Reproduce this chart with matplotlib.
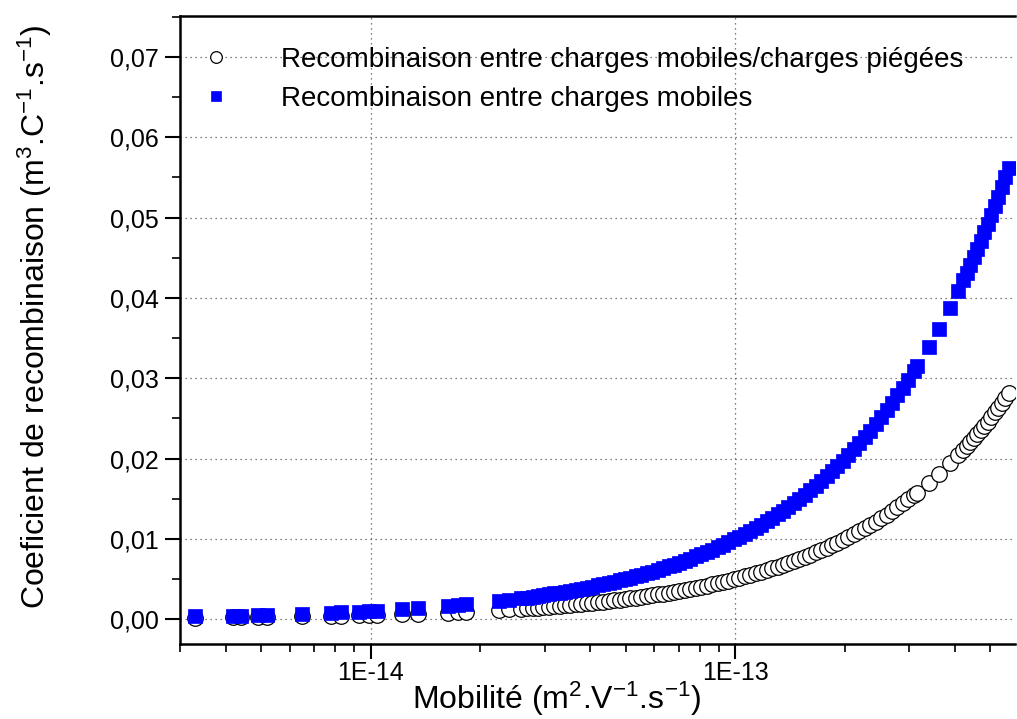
import matplotlib
matplotlib.use("Agg")
import matplotlib.pyplot as plt
from matplotlib.ticker import FuncFormatter, LogLocator, MultipleLocator, NullFormatter

plt.rcParams['font.family'] = ['Liberation Sans', 'DejaVu Sans']
plt.rcParams['mathtext.default'] = 'regular'

# mobilité (x 1e-15 m2/V/s)
mobilite = [3.3, 4.2, 4.4, 4.9, 5.2, 6.5, 7.8, 8.3, 9.3, 9.9, 10.4, 12.2, 13.5, 16.3, 17.4, 18.3, 22.5, 24.0,
            25.9, 26.8, 27.8, 28.7, 29.7, 30.8, 31.9, 33.0, 34.1, 35.3, 36.6, 37.8, 39.2, 40.5, 42.0, 43.4,
            45.0, 46.5, 48.2, 49.9, 51.6, 53.4, 55.3, 57.2, 59.2, 61.3, 63.4, 65.7, 68.0, 70.3, 72.8, 75.3,
            78.0, 80.7, 83.5, 86.5, 89.5, 92.6, 95.8, 99.2, 102.7, 106.3, 110.0, 113.8, 117.8, 121.9, 126.2,
            130.6, 135.2, 139.9, 144.8, 149.9, 155.1, 160.6, 166.2, 172.0, 178.0, 184.3, 190.7, 197.4, 204.3,
            211.5, 218.9, 226.5, 234.5, 242.7, 251.2, 260.0, 269.1, 278.5, 288.2, 298.3, 308.8, 315.0,
            339, 361, 388, 409,
            422, 431, 441, 451, 461, 471, 482, 492, 503, 515, 526, 538, 550, 562]

# recombinaison entre charges mobiles/charges piégées
coef_pieges = [0.00017, 0.00021, 0.00022, 0.00025, 0.00026, 0.00033, 0.00039, 0.00042, 0.00047, 0.0005,
               0.00052, 0.00061, 0.00068, 0.00082, 0.00087, 0.00092, 0.00113, 0.0012,
               0.0013, 0.00134, 0.00139, 0.00144, 0.00149, 0.00154, 0.0016, 0.00165, 0.00171, 0.00177,
               0.00183, 0.00189, 0.00196, 0.00203, 0.0021, 0.00217, 0.00225, 0.00233, 0.00241, 0.0025,
               0.00258, 0.00267, 0.00277, 0.00286, 0.00296, 0.00307, 0.00317, 0.00329, 0.0034, 0.00352,
               0.00364, 0.00377, 0.0039, 0.00404, 0.00418, 0.00433, 0.00448, 0.00463, 0.00479, 0.00496,
               0.00514, 0.00532, 0.0055, 0.00569, 0.00589, 0.0061, 0.00631, 0.00653, 0.00676, 0.007,
               0.00724, 0.0075, 0.00776, 0.00803, 0.00831, 0.0086, 0.0089, 0.00922, 0.00954, 0.00987,
               0.01022, 0.01058, 0.01095, 0.01133, 0.01173, 0.01214, 0.01256, 0.013, 0.01346, 0.01393,
               0.01441, 0.01492, 0.01544, 0.01575,
               0.01695, 0.01805, 0.0194, 0.02045,
               0.0211, 0.02155, 0.02205, 0.02255, 0.02305, 0.02355, 0.0241, 0.0246, 0.02515, 0.02575,
               0.0263, 0.0269, 0.0275, 0.0281]

# recombinaison entre charges mobiles
coef_mobiles = [0.00033, 0.00042, 0.00044, 0.00049, 0.00052, 0.00065, 0.00078, 0.00083, 0.00093, 0.00099,
                0.00104, 0.00122, 0.00135, 0.00163, 0.00174, 0.00183, 0.00225, 0.0024,
                0.00259, 0.00268, 0.00278, 0.00287, 0.00297, 0.00308, 0.00319, 0.0033, 0.00341, 0.00353,
                0.00366, 0.00378, 0.00392, 0.00405, 0.0042, 0.00434, 0.0045, 0.00465, 0.00482, 0.00499,
                0.00516, 0.00534, 0.00553, 0.00572, 0.00592, 0.00613, 0.00634, 0.00657, 0.0068, 0.00703,
                0.00728, 0.00753, 0.0078, 0.00807, 0.00835, 0.00865, 0.00895, 0.00926, 0.00958, 0.00992,
                0.01027, 0.01063, 0.011, 0.01138, 0.01178, 0.01219, 0.01262, 0.01306, 0.01352, 0.01399,
                0.01448, 0.01499, 0.01551, 0.01606, 0.01662, 0.0172, 0.0178, 0.01843, 0.01907, 0.01974,
                0.02043, 0.02115, 0.02189, 0.02265, 0.02345, 0.02427, 0.02512, 0.026, 0.02691, 0.02785,
                0.02882, 0.02983, 0.03088, 0.0315,
                0.0339, 0.0361, 0.0388, 0.0409,
                0.0422, 0.0431, 0.0441, 0.0451, 0.0461, 0.0471, 0.0482, 0.0492, 0.0503, 0.0515,
                0.0526, 0.0538, 0.055, 0.0562]

x_ticks = [1e-14, 1e-13]
x_tick_labels = ['1E-14', '1E-13']

x = [v * 1e-15 for v in mobilite]

fig = plt.figure(figsize=(10.17, 7.19), dpi=100)
ax = fig.add_axes([0.177, 0.1043, 0.821, 0.8734])

ax.plot(x, coef_pieges, 'o', ms=11.2, mfc='white', mec='black', mew=0.9,
        label='Recombinaison entre charges mobiles/charges piégées', zorder=3)
ax.plot(x, coef_mobiles, 's', ms=10.3, mfc='#0000ff', mec='#0000ff', mew=0.5,
        label='Recombinaison entre charges mobiles', zorder=4)

ax.set_xscale('log')
ax.set_xlim(3e-15, 5.85e-13)
ax.set_ylim(-0.0031, 0.0751)

ax.set_xticks(x_ticks, labels=x_tick_labels)
ax.xaxis.set_minor_locator(LogLocator(base=10, subs=range(2, 10), numticks=20))
ax.xaxis.set_minor_formatter(NullFormatter())
ax.yaxis.set_major_locator(MultipleLocator(0.01))
ax.yaxis.set_minor_locator(MultipleLocator(0.005))
ax.yaxis.set_major_formatter(FuncFormatter(lambda v, p: f"{v:.2f}".replace('.', ',')))

ax.tick_params(which='major', direction='out', length=10.5, width=1.5, labelsize=18)
ax.tick_params(axis='y', which='major', pad=5)
ax.tick_params(axis='x', which='major', pad=2)
ax.tick_params(which='minor', direction='out', length=6, width=1.2)
ax.tick_params(top=False, right=False)

for s in ['left', 'bottom', 'top']:
    ax.spines[s].set_linewidth(1.8)
ax.spines['right'].set_visible(False)

ax.grid(True, which='major', ls=(0, (1, 3)), color='#555555', lw=0.9)
ax.set_axisbelow(True)

ax.set_xlabel('Mobilité (m$^2$.V$^{-1}$.s$^{-1}$)', fontsize=23)
ax.xaxis.set_label_coords(0.451, -0.057)
ax.set_ylabel('Coeficient de recombinaison (m$^3$.C$^{-1}$.s$^{-1}$)', fontsize=23)
ax.yaxis.set_label_coords(-0.151, 0.521)

ax.legend(loc='upper left', bbox_to_anchor=(0.026, 0.9506), frameon=False, fontsize=20,
          handlelength=1.0, handletextpad=1.84, borderpad=0, borderaxespad=0,
          labelspacing=0.45, markerscale=0.75)

fig.savefig('out.png', dpi=100)
